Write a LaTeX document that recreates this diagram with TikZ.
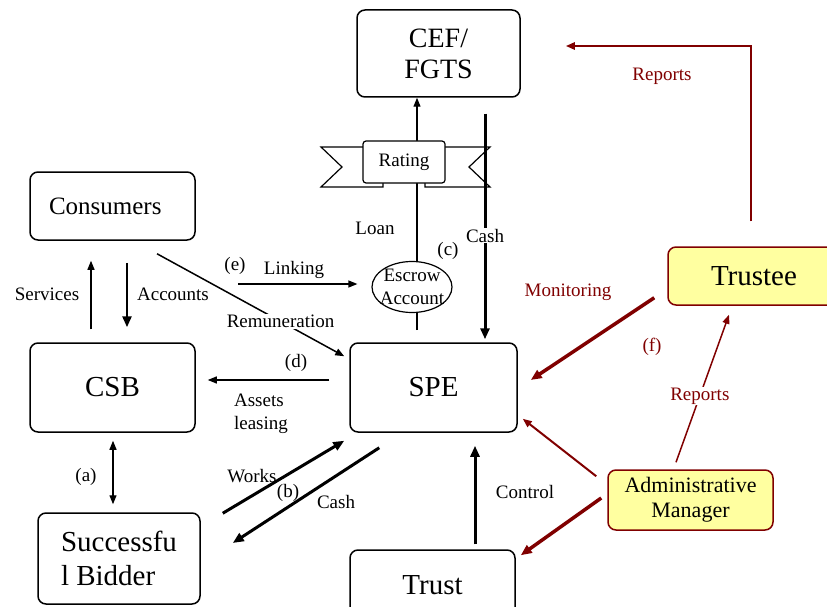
\documentclass[tikz,border=0pt]{standalone}
\usepackage{fontspec}
\setmainfont{Liberation Serif}
\usetikzlibrary{arrows.meta, shapes.geometric, backgrounds}
\definecolor{cRed}{RGB}{128,0,0}
\definecolor{cYellow}{RGB}{255,255,160}
\tikzset{
	box/.style   ={rectangle, rounded corners=8pt, draw=black, line width=1.5pt, fill=white, align=center, inner sep=2pt, font=\fontsize{29}{33}\selectfont},
	keybox/.style={box, draw=cRed, fill=cYellow},
	lab/.style   ={font=\fontsize{19}{23}\selectfont, align=left, inner sep=1pt},
	sig/.style   ={-{Triangle[length=9pt, width=7pt]}, line width=1.2pt},
	fatsig/.style={-{Triangle[length=11pt, width=9pt]}, line width=3pt},
	redsig/.style={sig, draw=cRed},
	fatred/.style={fatsig, draw=cRed},
}
\begin{document}
\begin{tikzpicture}[x=1pt, y=-1pt]
	\clip (0,0) rectangle (827,607);
	% parties
	\node[box, minimum width=163pt, minimum height=87pt, font=\fontsize{28}{31}\selectfont] (cef) at (438.5,53.5) {CEF/\\FGTS};
	\node[box, minimum width=165pt, minimum height=68pt, font=\fontsize{25}{28}\selectfont, text width=127pt, align=left] (cons) at (112.5,206) {Consumers};
	\node[box, minimum width=165pt, minimum height=89pt] (csb) at (112.5,387.5) {CSB};
	\node[box, minimum width=162pt, minimum height=91pt, font=\fontsize{29}{34}\selectfont, align=left] (bidder) at (119,558.5) {Successfu\\l Bidder};
	\node[box, minimum width=167pt, minimum height=89pt] (spe) at (433.5,387.5) {SPE};
	\node[box, minimum width=165pt, minimum height=70pt] (trust) at (432.5,585) {Trust};
	\node[keybox, minimum width=172pt, minimum height=58pt] (trustee) at (754,276) {Trustee};
	\node[keybox, minimum width=165pt, minimum height=60pt, font=\fontsize{22}{25}\selectfont] (admin) at (690.5,500) {Administrative\\Manager};
	% rating ribbon and escrow
	\draw[line width=1.2pt] (363,147) -- (321,147) -- (342,167) -- (321,187) -- (383,187) -- (383,183);
	\draw[line width=1.2pt] (445,147) -- (490,147) -- (469,167) -- (490,187) -- (425,187) -- (425,183);
	\node[box, rounded corners=3pt, line width=1.2pt, minimum width=82pt, minimum height=42pt, font=\fontsize{19}{23}\selectfont] (rating) at (404,162) {Rating};
	\node[ellipse, draw, line width=1.2pt, fill=white, minimum width=80pt, minimum height=51pt, inner sep=0pt,
		label={[lab, align=center]center:{Escrow\\Account}}] (escrow) at (412,287) {};
	% flows
	\begin{scope}[on background layer]
		\coordinate (loanfrom) at (417,330);
		\draw[sig] (loanfrom) -- (loanfrom |- cef.south);
		\draw[fatsig] ([xshift=46.5pt,yshift=-16pt]cef.south) -- node[lab, fill=white, pos=0.54] (cashc) {Cash} ([xshift=51.5pt,yshift=3pt]spe.north);
		\draw[sig] ([xshift=-21.5pt,yshift=13pt]csb.north) -- ([xshift=-21.5pt,yshift=-20pt]cons.south);
		\draw[fatsig, line width=2.5pt] ([xshift=14.5pt,yshift=-22pt]cons.south) -- ([xshift=14.5pt,yshift=15pt]csb.north);
		\draw[sig, line width=1.5pt] ([xshift=44.5pt,yshift=-13pt]cons.south) -- node[lab, fill=white, pos=0.66] (remun) {Remuneration} ([xshift=-5pt,yshift=-14pt]spe.north west);
		\coordinate (linkfrom) at (238,284);
		\draw[sig] (linkfrom) -- ([xshift=-14pt,yshift=3pt]escrow.west);
		\draw[sig] ([xshift=-20pt,yshift=7.5pt]spe.west) -- ([xshift=12pt,yshift=7.5pt]csb.east);
		\draw[{Triangle[length=9pt, width=7pt]}-{Triangle[length=9pt, width=7pt]}, line width=1.2pt] ([xshift=0.5pt,yshift=-8pt]csb.south) -- ([xshift=-6pt,yshift=8pt]bidder.north);
		\draw[fatsig] ([xshift=22pt,yshift=-1pt]bidder.north east) -- ([xshift=-5pt,yshift=-8pt]spe.south west);
		\draw[fatsig] ([xshift=30pt,yshift=-15pt]spe.south west) -- ([xshift=32pt,yshift=15.5pt]bidder.east);
		\draw[fatsig] ([xshift=42.5pt,yshift=5pt]trust.north) -- ([xshift=41.5pt,yshift=-13pt]spe.south);
		% trustee and manager
		\draw[redsig, line width=2.5pt] ([xshift=-3pt,yshift=25pt]trustee.north) |- ([xshift=45pt,yshift=7.5pt]cef.east);
		\draw[fatred, line width=3.5pt] ([xshift=-13pt,yshift=8pt]trustee.south west) -- ([xshift=13pt,yshift=7.5pt]spe.east);
		\draw[redsig, line width=2pt] ([xshift=-11pt,yshift=-7pt]admin.north west) -- ([xshift=5pt,yshift=14pt]spe.south east);
		\draw[redsig, line width=1.5pt] ([xshift=-14.5pt,yshift=7pt]admin.north) -- node[lab, fill=white, text=cRed, pos=0.45] (repb) {Reports} ([xshift=-25pt,yshift=-9pt]trustee.south);
		\draw[fatred, line width=3.5pt] ([xshift=-6pt,yshift=2pt]admin.west) -- ([xshift=5pt,yshift=-6pt]trust.north east);
	\end{scope}
	% labels
	\node[lab] (loan) at (375,228) {Loan};
	\node[lab] (c) at (448,251) {(c)};
	\node[lab] (serv) at (47,294) {Services};
	\node[lab] (acc) at (173,294) {Accounts};
	\node[lab] (e) at (235,266) {(e)};
	\node[lab] (link) at (294,270) {Linking};
	\node[lab] (d) at (296,363) {(d)};
	\node[lab] (assets) at (261,414) {Assets\\leasing};
	\node[lab] (a) at (86,477) {(a)};
	\node[lab] (works) at (252,476) {Works};
	\node[lab] (b) at (288,493) {(b)};
	\node[lab] (cashb) at (336,502) {Cash};
	\node[lab] (ctrl) at (525,492) {Control};
	\node[lab, text=cRed] (repa) at (662,76) {Reports};
	\node[lab, text=cRed] (mon) at (568,292) {Monitoring};
	\node[lab, text=cRed] (f) at (652,347) {(f)};
\end{tikzpicture}
\end{document}
